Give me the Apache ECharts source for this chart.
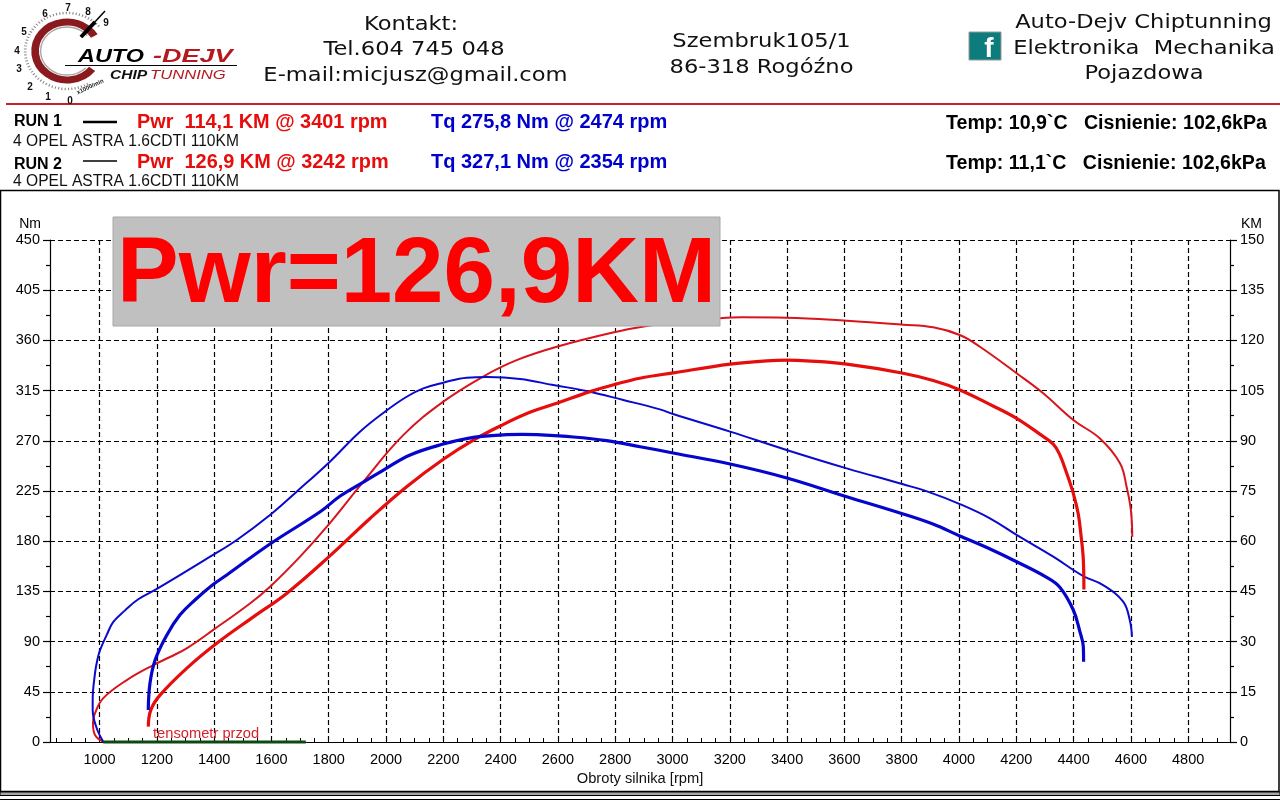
<!DOCTYPE html>
<html>
<head>
<meta charset="utf-8">
<style>html,body{margin:0;padding:0;background:#fff}#c{width:1280px;height:800px}</style>
<script src="https://cdn.jsdelivr.net/npm/echarts@6/dist/echarts.min.js"></script>
</head>
<body>
<div id="c"></div>
<script>
// Dyno run, torque in Nm on the left axis, power in KM on the right axis.
const tqRun1 = [[1170,28.7],[1176,52.6],[1194,73.5],[1235,96],[1281,114],[1333,127.3],[1393,140.5],[1444,149.7],[1595,177.5],[1770,206.4],[1840,220.5],[1921,233],[1991,243.8],[2084,257.3],[2200,267.1],[2305,273.1],[2421,275.5],[2474,275.8],[2526,275.5],[2654,273.4],[2770,270.1],[2887,264.7],[3002,259.1],[3201,249.2],[3399,236.7],[3608,219.9],[3794,205.3],[3909,195.4],[4003,184.7],[4101,173.9],[4201,161.6],[4306,147.6],[4352,138.7],[4399,118.3],[4422,98.9],[4434,85.4],[4435,72]];
const tqRun2 = [[1013,0.3],[990,12.3],[976,28.7],[976,37.6],[984,61.6],[992,73.3],[1002,82.5],[1025,96],[1048,107.6],[1089,118],[1135,128],[1200,137.2],[1386,166.1],[1479,181.1],[1595,203.5],[1688,224.4],[1804,251.3],[1909,278.2],[1996,296.1],[2072,309.5],[2130,317],[2200,322.1],[2282,326.6],[2354,327.1],[2468,325.4],[2584,320],[2700,314.6],[2828,306.6],[2956,298.2],[3002,294],[3201,278.2],[3398,261.8],[3608,245.3],[3805,231],[3898,223.8],[4003,213.3],[4108,200.5],[4201,185.6],[4329,166.1],[4433,148.8],[4503,140.7],[4573,125.8],[4596,109.4],[4604,94.4]];
const pwrRun1 = [[1170,4.6],[1179,9.6],[1211,14],[1304,22],[1409,29.5],[1537,37.4],[1653,44.4],[1804,55.6],[1944,66.8],[2072,76.3],[2200,84.5],[2305,90.2],[2398,94.4],[2502,98.5],[2596,101.2],[2712,104.7],[2805,107],[2886,108.7],[3003,110.3],[3201,112.9],[3329,113.9],[3401,114.1],[3468,113.9],[3608,112.9],[3805,110.2],[3910,108],[4003,105.2],[4119,100.4],[4201,96.7],[4282,92],[4329,89],[4352,85.8],[4376,80.3],[4399,74.3],[4416,68.3],[4425,62.4],[4434,54.4],[4436,45.6]];
const pwrRun2 = [[1013,0.1],[984,2.1],[977,5.7],[984,8.6],[1013,13.1],[1095,18.5],[1188,23],[1246,25.4],[1304,28],[1397,33.5],[1525,41.4],[1595,46.4],[1700,55.4],[1798,64.8],[1921,77.8],[2060,91.7],[2200,101.7],[2339,109.2],[2456,114.1],[2596,118.1],[2805,122.6],[2910,124.3],[3026,125.5],[3165,126.6],[3242,126.9],[3398,126.8],[3608,125.9],[3805,124.7],[3910,123.9],[4003,121.6],[4073,118.1],[4201,110.2],[4294,104.2],[4399,96.2],[4492,90.7],[4562,83.3],[4585,76.3],[4600,69.3],[4605,61.3]];
const tensometer = [[1013,0],[1720,0]];

const rpmLabels = [1000,1200,1400,1600,1800,2000,2200,2400,2600,2800,3000,3200,3400,3600,3800,4000,4200,4400,4600,4800];
const rpmMinorTicks = [850,900,950,1000,1050,1100,1150,1200,1250,1300,1350,1400,1450,1500,1550,1600,1650,1700,1750,1800,1850,1900,1950,2000,2050,2100,2150,2200,2250,2300,2350,2400,2450,2500,2550,2600,2650,2700,2750,2800,2850,2900,2950,3000,3050,3100,3150,3200,3250,3300,3350,3400,3450,3500,3550,3600,3650,3700,3750,3800,3850,3900,3950,4000,4050,4100,4150,4200,4250,4300,4350,4400,4450,4500,4550,4600,4650,4700,4750,4800,4850,4900];

const contactLines = ['Kontakt:','Tel.604 745 048','E-mail:micjusz@gmail.com'];
const addressLines = ['Szembruk105/1','86-318 Rogóźno'];
const companyLines = ['Auto-Dejv Chiptunning','Elektronika  Mechanika','Pojazdowa'];
const vehicle = '4 OPEL ASTRA 1.6CDTI 110KM';
const run1Text = ['RUN 1','Pwr  114,1 KM @ 3401 rpm','Tq 275,8 Nm @ 2474 rpm','Temp: 10,9`C   Cisnienie: 102,6kPa'];
const run2Text = ['RUN 2','Pwr  126,9 KM @ 3242 rpm','Tq 327,1 Nm @ 2354 rpm','Temp: 11,1`C   Cisnienie: 102,6kPa'];
const banner = 'Pwr=126,9KM';
const dialDigits = [['0',70,101],['1',48,97],['2',30,87],['3',19,69],['4',17,51],['5',24,32],['6',45,14],['7',68,8],['8',88,12],['9',106,23]];

const SANS = '"Liberation Sans", Arial, sans-serif';
const WIDE = '"DejaVu Sans", Verdana, sans-serif';

function text(t, x, y, font, fill, extra) {
  const e = extra || {};
  return {
    type: 'text', x: x, y: y, z: 100, silent: true,
    scaleX: e.scaleX || 1, rotation: e.rotation || 0,
    style: { text: t, x: 0, y: 0, font: font, fill: fill, textAlign: e.align || 'left', textVerticalAlign: 'middle' }
  };
}
function rect(x, y, w, h, fill, stroke, lw) {
  return { type: 'rect', z: 99, silent: true, shape: { x: x, y: y, width: w, height: h },
    style: { fill: fill, stroke: stroke || null, lineWidth: lw || 0 } };
}
function line(x1, y1, x2, y2, stroke, lw) {
  return { type: 'line', z: 99, silent: true, shape: { x1: x1, y1: y1, x2: x2, y2: y2 },
    style: { stroke: stroke, lineWidth: lw } };
}
function arc(r, start, end, stroke, lw, dash) {
  return { type: 'arc', x: 67, y: 51, scaleX: 1.1, z: 99, silent: true,
    shape: { cx: 0, cy: 0, r: r, startAngle: start * Math.PI / 180, endAngle: end * Math.PI / 180, clockwise: true },
    style: { stroke: stroke, lineWidth: lw, fill: null, lineDash: dash || null } };
}
const wideText = { align: 'center', scaleX: 1.13 };

const decorations = [
  // page frame and footer band
  rect(0.5, 190.5, 1278.5, 601, null, '#000', 1.5),
  rect(0, 792, 1280, 3.5, '#a8a8a8', '#000', 1),
  line(0, 799.5, 1280, 799.5, '#000', 1),
  line(6, 104, 1280, 104, '#c8202a', 2),
  // logo
  arc(38, 60, 320, '#8a8a8a', 2.5, [1, 2]),
  arc(29, 38, 329, '#8b1a1f', 7),
  arc(24, 45, 320, '#a9a9a9', 1.3),
  line(81, 37, 105, 11, '#000', 1.5),
  line(81, 37, 95, 22, '#000', 4),
  line(65, 65.5, 237, 65.5, '#000', 1),
  text('AUTO', 78, 57, 'italic bold 18px ' + SANS, '#000', { scaleX: 1.3 }),
  text('-DEJV', 153, 57, 'italic bold 18px ' + SANS, '#b5191f', { scaleX: 1.5 }),
  text('CHIP', 110, 75, 'italic bold 13px ' + SANS, '#111', { scaleX: 1.2 }),
  text('TUNNING', 150, 75, 'italic 13px ' + SANS, '#b5191f', { scaleX: 1.28 }),
  text('x1000/min', 77, 93, 'bold 6px ' + SANS, '#222', { rotation: 25 * Math.PI / 180 }),
  // contact block
  text(contactLines[0], 411, 25, '20px ' + WIDE, '#111', wideText),
  text(contactLines[1], 414, 50, '20px ' + WIDE, '#111', wideText),
  text(contactLines[2], 415.5, 76, '20px ' + WIDE, '#111', wideText),
  text(addressLines[0], 761.5, 42, '20px ' + WIDE, '#111', wideText),
  text(addressLines[1], 761.5, 68, '20px ' + WIDE, '#111', wideText),
  rect(969, 32, 32, 28, '#0c7c7c', '#999', 1),
  text('f', 989, 49, 'bold 28px ' + SANS, '#fff', { align: 'center' }),
  text(companyLines[0], 1143.5, 23, '20px ' + WIDE, '#111', wideText),
  text(companyLines[1], 1144, 49, '20px ' + WIDE, '#111', wideText),
  text(companyLines[2], 1144, 74, '20px ' + WIDE, '#111', wideText),
  // run summaries
  text(run1Text[0], 14, 121.5, 'bold 16px ' + SANS, '#000'),
  line(83, 122, 117, 122, '#000', 2.5),
  text(run1Text[1], 137, 122.5, 'bold 19.9px ' + SANS, '#e60d0d'),
  text(run1Text[2], 431, 122.5, 'bold 20px ' + SANS, '#0000cc'),
  text(run1Text[3], 946, 123.5, 'bold 19.6px ' + SANS, '#000'),
  text(vehicle, 13, 142, '15.6px ' + SANS, '#111'),
  text(run2Text[0], 14, 164.5, 'bold 16px ' + SANS, '#000'),
  line(83, 161, 117, 161, '#000', 1.5),
  text(run2Text[1], 137, 162.5, 'bold 19.9px ' + SANS, '#e60d0d'),
  text(run2Text[2], 431, 162.5, 'bold 20px ' + SANS, '#0000cc'),
  text(run2Text[3], 946, 163.5, 'bold 19.6px ' + SANS, '#000'),
  text(vehicle, 13, 182, '15.6px ' + SANS, '#111'),
  // headline plate over the plot
  rect(113, 217, 607, 109, '#c0c0c0', '#a8a8a8', 1),
  text(banner, 416.5, 276, 'bold 92.5px ' + SANS, '#ff0000', { align: 'center' }),
  text('tensometr przod', 153, 734, '14.7px ' + SANS, '#d8202a')
].concat(dialDigits.map(d => text(d[0], d[1], d[2], 'bold 10px ' + SANS, '#111', { align: 'center' })));

function curve(name, data, axis, color, width) {
  return { name: name, type: 'line', data: data, yAxisIndex: axis, xAxisIndex: 0, showSymbol: false,
    smooth: 0.4, clip: false, lineStyle: { color: color, width: width }, itemStyle: { color: color } };
}

const plain = v => String(v);
const yCommon = {
  type: 'value', min: 0,
  axisLine: { show: true, onZero: false, lineStyle: { color: '#000', width: 1.2 } },
  axisTick: { show: true, length: 7, lineStyle: { color: '#000', width: 1.2 } },
  minorTick: { show: true, splitNumber: 2, length: 4, lineStyle: { color: '#000', width: 1.2 } },
  axisLabel: { color: '#000', fontFamily: 'Liberation Sans', fontSize: 14.5, margin: 10, formatter: plain }
};
const dashed = { show: true, lineStyle: { color: '#000', type: [5, 3], width: 1.2 } };

const chart = echarts.init(document.getElementById('c'), null, { renderer: 'canvas' });
chart.setOption({
  animation: false,
  backgroundColor: '#fff',
  grid: { left: 50, right: 50, top: 240, bottom: 58, containLabel: false },
  xAxis: [
    {
      type: 'value', position: 'bottom', min: 827, max: 4946,
      name: 'Obroty silnika [rpm]', nameLocation: 'middle', nameGap: 26,
      nameTextStyle: { color: '#111', fontFamily: 'Liberation Sans', fontSize: 14.7 },
      axisLine: { show: true, onZero: false, lineStyle: { color: '#000', width: 1.2 } },
      axisTick: { show: true, inside: true, length: 4, customValues: rpmMinorTicks, lineStyle: { color: '#000', width: 1 } },
      axisLabel: { color: '#000', fontFamily: 'Liberation Sans', fontSize: 14.5, margin: 10, customValues: rpmLabels, formatter: plain },
      splitLine: { show: false }
    },
    {
      type: 'value', position: 'bottom', min: 827, max: 4946,
      axisLine: { show: false },
      axisTick: { show: false, customValues: rpmLabels },
      axisLabel: { show: false },
      splitLine: dashed
    }
  ],
  yAxis: [
    Object.assign({}, yCommon, { position: 'left', max: 450, interval: 45, splitLine: dashed,
      name: 'Nm', nameLocation: 'end', nameGap: 9,
      nameTextStyle: { color: '#000', fontFamily: 'Liberation Sans', fontSize: 14, align: 'right', padding: [0, 9, 0, 0] } }),
    Object.assign({}, yCommon, { position: 'right', max: 150, interval: 15, splitLine: { show: false },
      name: 'KM', nameLocation: 'end', nameGap: 9,
      nameTextStyle: { color: '#000', fontFamily: 'Liberation Sans', fontSize: 14, align: 'left', padding: [0, 0, 0, 11] } })
  ],
  series: [
    curve('Pwr RUN 2', pwrRun2, 1, '#d8141c', 2),
    curve('Tq RUN 2', tqRun2, 0, '#0a0acc', 2),
    curve('Pwr RUN 1', pwrRun1, 1, '#e60d0d', 3.2),
    curve('Tq RUN 1', tqRun1, 0, '#0505cc', 3.2),
    curve('tensometr przod', tensometer, 0, '#0b4a12', 3)
  ],
  graphic: { elements: decorations }
});
</script>
</body>
</html>
